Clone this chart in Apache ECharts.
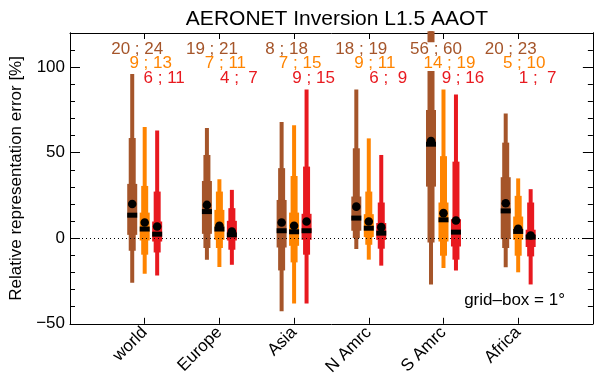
<!DOCTYPE html>
<html>
<head>
<meta charset="utf-8">
<script src="https://cdn.jsdelivr.net/npm/echarts@6/dist/echarts.min.js"></script>
<style>
  html, body { margin: 0; padding: 0; background: #fff; }
  #chart { width: 595px; height: 378px; }
</style>
</head>
<body>
<div id="chart"></div>
<script>
// regions on the x axis
const regions = ["world", "Europe", "Asia", "N Amrc", "S Amrc", "Africa"];

// per region: [low, p10, p25, median, p75, p90, high, mean]
const brownStats = [
  [-26, -7.3, 2, 13.5, 31.8, 58.6, 96, 20],
  [-12.5, -5.7, 2.6, 15.6, 33.5, 48.7, 64.4, 19.5],
  [-42.7, -18.8, -5.4, 4.4, 22.4, 41, 68, 9.2],
  [-6.3, 0.1, 4.4, 11.8, 24.4, 52.6, 87, 18.5],
  [-27, -2.4, 30.2, 55, 75, 121, 121, 56.8],
  [-17, -5.7, -0.5, 16, 35.7, 55.9, 73, 20.5],
];
const orangeStats = [
  [-20.7, -9.6, -1.3, 5.4, 15, 30.6, 65, 9.2],
  [-16.8, -5.7, -0.9, 5.4, 16.6, 27.3, 34.5, 7.3],
  [-38.2, -14.1, -4.4, 3.8, 15, 36.4, 66, 7.3],
  [-12.5, -3.8, 0.7, 5.9, 14.1, 27.3, 58.4, 9.8],
  [-17.4, -10.2, -1.9, 10.8, 20.9, 48, 87, 14.7],
  [-19.9, -10.2, -0.9, 4, 12.7, 24.8, 35, 5.5],
];
const redStats = [
  [-21.7, -8.3, -1.9, 2.4, 9.8, 27.3, 63, 6.9],
  [-15.5, -6.7, -1.3, 2, 10.2, 17.6, 28.3, 4],
  [-38.2, -9.6, -0.9, 4.4, 14.3, 41.9, 87, 9.8],
  [-16, -6.1, -0.9, 3, 8.9, 20.9, 48.7, 6.5],
  [-18.8, -12.5, -4.8, 3.6, 11.2, 44.8, 84, 10.4],
  [-27, -10.6, -5.1, 0.7, 5, 20.9, 28.7, 1.6],
];

// numbers printed above each box
const brownCounts = [[20, 24], [19, 21], [8, 18], [18, 19], [56, 60], [20, 23]];
const orangeCounts = [[9, 13], [7, 11], [7, 15], [9, 11], [14, 19], [5, 10]];
const redCounts = [[6, 11], [4, 7], [9, 15], [6, 9], [9, 16], [1, 7]];

const font = "'Liberation Sans', Arial, Helvetica, sans-serif";
const BROWN = "#A5552A", ORANGE = "#FF8400", RED = "#E8191F";
const DX = 0.167;

function boxSeries(name, stats, color, dx) {
  return {
    type: "custom",
    name: name,
    z: 2,
    data: stats.map((s, i) => [i + 1].concat(s)),
    encode: { x: 0, y: [1, 2, 3, 4, 5, 6, 7, 8] },
    renderItem: function (params, api) {
      const x = api.value(0) + dx;
      const pt = (k) => api.coord([x, api.value(k)]);
      const lo = pt(1), l10 = pt(2), l25 = pt(3), med = pt(4);
      const h75 = pt(5), h90 = pt(6), hi = pt(7), mean = pt(8);
      const cx = lo[0];
      const bar = (y1, y2, w) => ({
        type: "rect",
        shape: { x: cx - w / 2, y: y2, width: w, height: y1 - y2 },
        style: { fill: color },
      });
      return {
        type: "group",
        children: [
          bar(lo[1], hi[1], 4),
          bar(l10[1], h90[1], 7),
          bar(l25[1], h75[1], 10),
          { type: "rect", shape: { x: cx - 5, y: med[1] - 2.5, width: 10, height: 5 }, style: { fill: "#000" } },
          { type: "circle", shape: { cx: cx, cy: mean[1], r: 4.3 }, style: { fill: "#000" } },
        ],
      };
    },
  };
}

// count labels drawn as custom text so they sit on a white box above the bars
function labelSeries(counts, color, dx, yv, off) {
  return {
    type: "custom",
    z: 10,
    silent: true,
    data: counts.map((c, i) => [i + 1 + dx, yv]),
    encode: { x: 0, y: 1 },
    renderItem: function (params, api) {
      const p = api.coord([api.value(0), api.value(1)]);
      const c = counts[params.dataIndex];
      return {
        type: "text",
        x: p[0] + off,
        y: p[1],
        style: {
          text: c[0] + " ; " + String(c[1]).padStart(2, " "),
          fill: color,
          font: "17px " + font,
          align: "center",
          verticalAlign: "middle",
          backgroundColor: "#fff",
          lineHeight: 15,
          padding: 0,
        },
      };
    },
  };
}

const axisCommon = {
  type: "value",
  axisLine: { show: true, onZero: false, lineStyle: { color: "#000", width: 1 } },
  splitLine: { show: false },
};

const chart = echarts.init(document.getElementById("chart"));

const xBase = Object.assign({}, axisCommon, {
  min: 0, max: 7, interval: 1,
  axisTick: { show: true, inside: true, length: 6, lineStyle: { color: "#000" } },
});
const yBase = Object.assign({}, axisCommon, { min: -50, max: 120 });

const options = {
  animation: false,
  title: {
    text: "AERONET Inversion L1.5 AAOT",
    left: 332,
    top: 4,
    textAlign: "center",
    textStyle: { fontSize: 21, fontWeight: "normal", color: "#000", fontFamily: font },
  },
  grid: { left: 70, right: 1, top: 33, bottom: 54 },
  xAxis: [
    Object.assign({}, xBase, {
      position: "bottom",
      axisLabel: {
        formatter: (v) => regions[v - 1] || "",
        rotate: 45,
        margin: 6,
        fontSize: 17,
        color: "#000",
        fontFamily: font,
      },
    }),
    Object.assign({}, xBase, { position: "top", axisLabel: { show: false } }),
  ],
  yAxis: [
    Object.assign({}, yBase, {
      position: "left",
      interval: 50,
      axisTick: { show: true, inside: true, length: 10, lineStyle: { color: "#000" } },
      axisLabel: {
        formatter: (v) => (v % 50 === 0 ? String(v).replace("-", "\u2212") : ""),
        margin: 5,
        fontSize: 17,
        color: "#000",
        fontFamily: font,
      },
      name: "Relative representation error [%]",
      nameLocation: "middle",
      nameGap: 41,
      nameTextStyle: { fontSize: 17, color: "#000", fontFamily: font },
    }),
    Object.assign({}, yBase, {
      position: "left",
      interval: 10,
      axisTick: { show: true, inside: true, length: 5, lineStyle: { color: "#000" } },
      axisLabel: { show: false },
    }),
    Object.assign({}, yBase, {
      position: "right",
      interval: 50,
      axisTick: { show: true, inside: true, length: 10, lineStyle: { color: "#000" } },
      axisLabel: { show: false },
    }),
    Object.assign({}, yBase, {
      position: "right",
      interval: 10,
      axisTick: { show: true, inside: true, length: 5, lineStyle: { color: "#000" } },
      axisLabel: { show: false },
    }),
  ],
  graphic: [
    {
      type: "text",
      right: 30,
      top: 292,
      style: { text: "grid\u2013box = 1\u00b0", fontSize: 17, fill: "#000", fontFamily: font },
    },
  ],
  series: [
    Object.assign(boxSeries("brown", brownStats, BROWN, -DX), {
      markLine: {
        silent: true,
        symbol: "none",
        label: { show: false },
        lineStyle: { type: [1, 3], color: "#000", width: 1 },
        data: [{ yAxis: 0 }],
      },
    }),
    boxSeries("orange", orangeStats, ORANGE, 0),
    boxSeries("red", redStats, RED, DX),
    labelSeries(brownCounts, BROWN, -DX, 110.2, 5),
    labelSeries(orangeCounts, ORANGE, 0, 102.2, 6),
    labelSeries(redCounts, RED, DX, 93.5, 7),
  ],
};

chart.setOption(options);
</script>
</body>
</html>
